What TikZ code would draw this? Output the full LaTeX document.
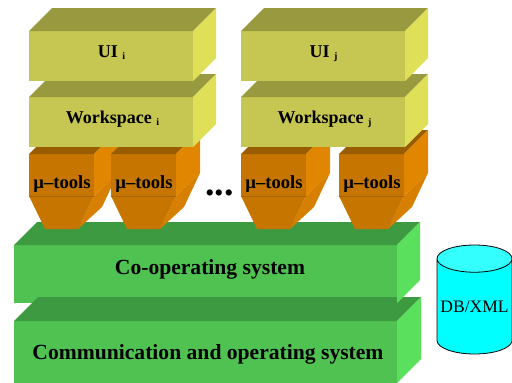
\documentclass[tikz,border=0pt]{standalone}
\usepackage{fontspec}
\setmainfont{Liberation Serif}
\usetikzlibrary{shapes.geometric, calc}
\definecolor{yellowfront}{HTML}{C6C652}
\definecolor{yellowtop}{HTML}{999940}
\definecolor{yellowside}{HTML}{E0E058}
\definecolor{orangefront}{HTML}{C67600}
\definecolor{orangetop}{HTML}{995C00}
\definecolor{orangeside}{HTML}{E08600}
\definecolor{orangecone}{HTML}{D67F00}
\definecolor{greenfront}{HTML}{4FC251}
\definecolor{greentop}{HTML}{3E9A40}
\definecolor{greenside}{HTML}{5AE05C}
\definecolor{dbbody}{HTML}{00FFFF}
\definecolor{dbend}{HTML}{33FFFF}
\tikzstyle{yellowbox} = [rectangle, minimum width=164pt, minimum height=50pt, inner sep=0pt, outer sep=0pt, fill=yellowfront, font=\fontsize{18}{18}\selectfont\bfseries]
\tikzstyle{greenbox} = [rectangle, minimum width=383pt, inner sep=0pt, outer sep=0pt, fill=greenfront, font=\fontsize{21.6}{22}\selectfont\bfseries]
\tikzstyle{toolbox} = [rectangle, minimum width=65pt, minimum height=42pt, inner sep=0pt, outer sep=0pt, fill=orangefront, font=\fontsize{18.6}{19}\selectfont\bfseries]
\newcommand{\lift}[3]{\kern#1pt\smash{\raisebox{#2pt}{#3}}}
\newcommand{\subidx}[1]{~\raisebox{-2.5pt}{\fontsize{10}{10}\selectfont #1}}
% top and side faces of a block
\newcommand{\blockfaces}[4]{
  \fill [#2] (#1.north west) -- ++(#4,-#4) -- ($(#1.north east)+(#4,-#4)$) -- (#1.north east) -- cycle;
  \fill [#3] (#1.north east) -- ++(#4,-#4) -- ($(#1.south east)+(#4,-#4)$) -- (#1.south east) -- cycle;
}
\newcommand{\toolfaces}[1]{
  \fill [orangetop] (#1.north west) -- ++(24,-24) -- ++(65,0) -- (#1.north east) -- cycle;
  \fill [orangeside] (#1.north east) -- ++(24,-24) -- ++(0,43) -- (#1.south east) -- cycle;
  \fill [orangecone] (#1.south east) -- ++(24,-23) -- ++(-16,34) -- ++(-24,22) -- cycle;
  \fill [orangefront] (#1.south west) -- ++(16,33) -- ++(33,0) -- (#1.south east) -- cycle;
  \draw [orangefront!85!black, thin] (#1.south west) -- (#1.south east);
}
\begin{document}
\begin{tikzpicture}[x=1pt, y=-1pt]
        \useasboundingbox (0,0) rectangle (512,383);

        % green layers
        \node (comm) [greenbox, minimum height=62pt] at (205.5,352) {\lift{5}{-7}{Communication and operating system}};
        \node (coop) [greenbox, minimum height=58pt, above of=comm, node distance=78pt] {\lift{9}{0}{Co-operating system}};
        \blockfaces{comm}{greentop}{greenside}{24}
        \blockfaces{coop}{greentop}{greenside}{23}

        % tools
        \node (tooli) [toolbox] at (61.5,175) {\lift{1}{-13}{µ–tools}};
        \toolfaces{tooli}
        \node (toolii) [toolbox, right of=tooli, node distance=82pt] {\lift{1}{-13}{µ–tools}};
        \toolfaces{toolii}
        \node (toolj) [toolbox, right of=toolii, node distance=130pt] {\lift{1}{-13}{µ–tools}};
        \toolfaces{toolj}
        \node (tooljj) [toolbox, right of=toolj, node distance=98pt] {\lift{1}{-13}{µ–tools}};
        \toolfaces{tooljj}

        % yellow stacks
        \node (wsi) [yellowbox] at (111,122) {\lift{3}{-1}{Workspace\subidx{i}}};
        \blockfaces{wsi}{yellowtop}{yellowside}{23}
        \node (uii) [yellowbox, above of=wsi, node distance=66pt] {\lift{1}{-1}{UI\subidx{i}}};
        \blockfaces{uii}{yellowtop}{yellowside}{23}
        \node (wsj) [yellowbox, right of=wsi, node distance=212pt] {\lift{3}{-1}{Workspace\subidx{j}}};
        \blockfaces{wsj}{yellowtop}{yellowside}{23}
        \node (uij) [yellowbox, above of=wsj, node distance=66pt] {\lift{1}{-1}{UI\subidx{j}}};
        \blockfaces{uij}{yellowtop}{yellowside}{23}

        \node (dots) [font=\fontsize{38}{38}\selectfont\bfseries, inner sep=0pt] at (219.5,193) {...};

        % data store
        \node (db) [cylinder, shape border rotate=90, aspect=0.4, draw=black, thick, minimum width=75pt, minimum height=109pt, inner sep=0pt, cylinder uses custom fill, cylinder body fill=dbbody, cylinder end fill=dbend, font=\fontsize{17.5}{18}\selectfont] at (474.5,306.5) {DB/XML};
\end{tikzpicture}
\end{document}
